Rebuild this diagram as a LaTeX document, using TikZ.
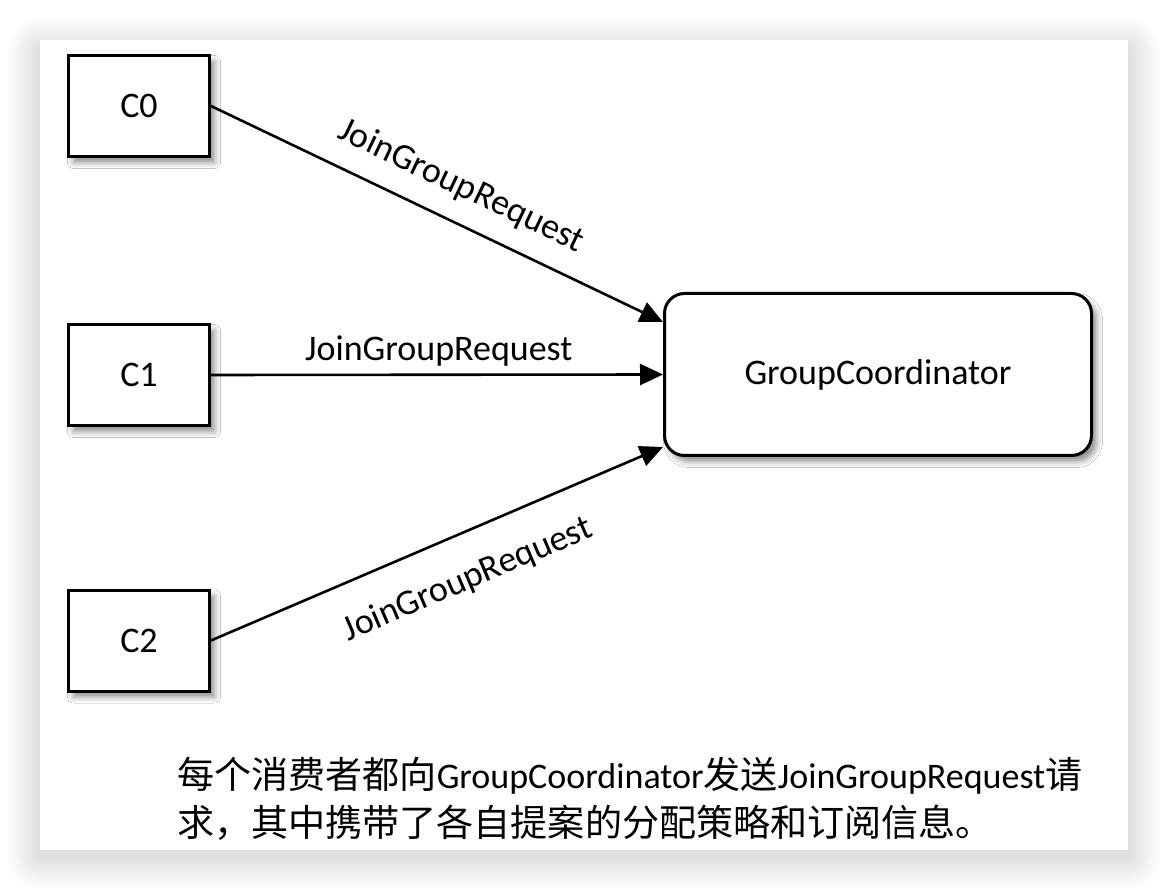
\documentclass[tikz,border=0pt]{standalone}
\usepackage{fontspec}
\setmainfont{Carlito}
\newfontfamily\cjk[Scale=1.03]{Noto Sans CJK SC}
\usetikzlibrary{arrows.meta,shadows.blur}
\begin{document}
\begin{tikzpicture}[x=1pt,y=-1pt,
  every node/.style={font=\fontsize{36}{43}\selectfont, text=black},
  card/.style={fill=white, draw=none, inner sep=0pt},
  cardshade/.style={fill=black, opacity=0.007},
  cbox/.style={draw=black, line width=3pt, fill=white, minimum width=141pt, minimum height=101pt, inner sep=0pt,
    blur shadow={shadow xshift=5pt, shadow yshift=-6pt, shadow blur radius=6pt, shadow opacity=45}},
  gbox/.style={draw=black, line width=3pt, fill=white, rounded corners=20pt, minimum width=427pt, minimum height=162pt, inner sep=0pt,
    blur shadow={shadow xshift=5pt, shadow yshift=-6pt, shadow blur radius=6pt, shadow opacity=45}},
  arr/.style={draw=black, line width=2.6pt, -{Triangle[length=23pt,width=21pt]}},
  lbl/.style={inner sep=0pt, sloped},
  captext/.style={anchor=base west, inner sep=0pt}
]
\useasboundingbox (0,0) rectangle (1168,890);
\fill[white] (0,0) rectangle (1168,890);
\foreach \i in {1,...,16}
  \fill[cardshade, rounded corners={2*\i pt}] ({40-2*\i},{50-2*\i}) rectangle ({1128+2*\i},{856+2*\i});
\node[card, minimum width=1088pt, minimum height=810pt] (card) at (584,445) {};

\node[cbox] (C0) at (139,106) {C0};
\node[cbox] (C1) at (139,375) {C1};
\node[cbox] (C2) at (139,640.5) {C2};
\node[gbox] (GC) at (878,374.5) {GroupCoordinator};

\draw[arr] (C0.east) -- ([yshift=52.5pt]GC.west)
  node[lbl, pos=0.52, anchor=south, outer sep=20pt] {JoinGroupRequest};
\draw[arr] (C1.east) -- (GC.west)
  node[lbl, pos=0.504, anchor=south, outer sep=8.5pt] {JoinGroupRequest};
\draw[arr] (C2.east) -- ([yshift=-72.5pt]GC.west)
  node[lbl, pos=0.529, anchor=north, outer sep=30pt] {JoinGroupRequest};

\node[captext] (cap1) at (177,788) {{\cjk 每个消费者都向}GroupCoordinator{\cjk 发送}JoinGroupRequest{\cjk 请}};
\node[captext] (cap2) at (177,836) {{\cjk 求，其中携带了各自提案的分配策略和订阅信息。}};
\end{tikzpicture}
\end{document}
